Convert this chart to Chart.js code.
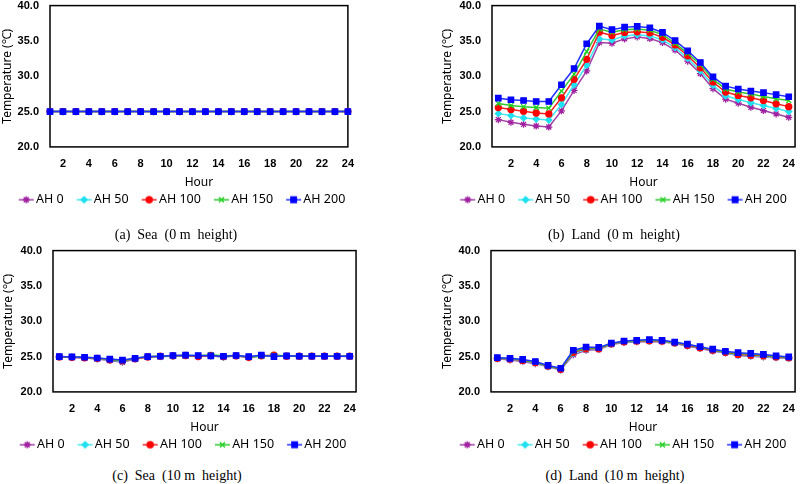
<!DOCTYPE html>
<html><head><meta charset="utf-8">
<script src="https://cdn.jsdelivr.net/npm/chart.js@4/dist/chart.umd.min.js"></script>
<style>
html,body{margin:0;padding:0;background:#fff}
body{width:800px;height:484px;position:relative;overflow:hidden}
.p{position:absolute}
.p canvas{display:block}
.cap{position:absolute;font-family:"Liberation Serif","Times New Roman",serif;font-size:14px;white-space:pre;transform:translateX(-50%);line-height:16px;color:#000}
</style></head><body>
<div class="p" id="boxA" style="left:-9px;top:-12px;width:373px;height:228px"><canvas id="ca"></canvas></div>
<div class="p" id="boxB" style="left:433px;top:-12px;width:372px;height:228px"><canvas id="cb"></canvas></div>
<div class="p" id="boxC" style="left:-9px;top:233px;width:375px;height:228px"><canvas id="cc"></canvas></div>
<div class="p" id="boxD" style="left:432px;top:233px;width:373px;height:228px"><canvas id="cd"></canvas></div>
<div class="cap" style="left:176px;top:227px">(a)  Sea  (0 m  height)</div>
<div class="cap" style="left:614px;top:227px">(b)  Land  (0 m  height)</div>
<div class="cap" style="left:177px;top:468px">(c)  Sea  (10 m  height)</div>
<div class="cap" style="left:615px;top:468px">(d)  Land  (10 m  height)</div>
<script>
// ---------------- data ----------------
const hours = ['1','2','3','4','5','6','7','8','9','10','11','12','13','14','15','16','17','18','19','20','21','22','23','24'];
const xTickLabels = ['2','4','6','8','10','12','14','16','18','20','22','24'];
const yTickValues = [20, 25, 30, 35, 40];
const seriesNames = ['AH 0', 'AH 50', 'AH 100', 'AH 150', 'AH 200'];

// (a) Sea, 0 m height
const seaSurfAH0   = [25.0,25.0,25.0,25.0,25.0,25.0,25.0,25.0,25.0,25.0,25.0,25.0,25.0,25.0,25.0,25.0,25.0,25.0,25.0,25.0,25.0,25.0,25.0,25.0];
const seaSurfAH50  = [25.0,25.0,25.0,25.0,25.0,25.0,25.0,25.0,25.0,25.0,25.0,25.0,25.0,25.0,25.0,25.0,25.0,25.0,25.0,25.0,25.0,25.0,25.0,25.0];
const seaSurfAH100 = [25.0,25.0,25.0,25.0,25.0,25.0,25.0,25.0,25.0,25.0,25.0,25.0,25.0,25.0,25.0,25.0,25.0,25.0,25.0,25.0,25.0,25.0,25.0,25.0];
const seaSurfAH150 = [25.0,25.0,25.0,25.0,25.0,25.0,25.0,25.0,25.0,25.0,25.0,25.0,25.0,25.0,25.0,25.0,25.0,25.0,25.0,25.0,25.0,25.0,25.0,25.0];
const seaSurfAH200 = [25.0,25.0,25.0,25.0,25.0,25.0,25.0,25.0,25.0,25.0,25.0,25.0,25.0,25.0,25.0,25.0,25.0,25.0,25.0,25.0,25.0,25.0,25.0,25.0];

// (b) Land, 0 m height
const landSurfAH0   = [23.86,23.48,23.19,22.95,22.81,25.1,28.0,30.76,34.76,34.67,35.29,35.57,35.33,34.76,33.71,32.14,30.38,28.24,26.76,26.19,25.62,25.14,24.67,24.19];
const landSurfAH50  = [24.71,24.43,24.1,23.95,23.8,26.0,28.8,31.57,35.29,35.14,35.71,35.86,35.71,35.14,34.05,32.52,30.76,28.71,27.24,26.71,26.24,25.86,25.43,25.0];
const landSurfAH100 = [25.57,25.29,25.05,24.8,24.67,26.95,29.57,32.4,36.24,35.76,36.2,36.29,36.14,35.52,34.43,32.9,31.19,29.19,27.76,27.29,26.95,26.57,26.1,25.7];
const landSurfAH150 = [26.14,25.86,25.7,25.57,25.48,27.9,30.3,33.5,36.67,36.24,36.57,36.67,36.52,35.9,34.67,33.24,31.67,29.57,28.2,27.76,27.48,27.14,26.8,26.57];
const landSurfAH200 = [26.9,26.67,26.57,26.43,26.43,28.8,31.1,34.6,37.1,36.6,36.95,37.05,36.86,36.2,35.05,33.6,31.95,29.9,28.6,28.2,27.9,27.67,27.4,27.1];

// (c) Sea, 10 m height
const sea10AH0   = [24.95,24.9,24.8,24.65,24.45,24.2,24.65,24.9,25.0,25.05,25.15,25.05,25.1,24.9,25.1,24.85,25.15,25.05,25.05,25.05,25.05,25.05,25.05,25.0];
const sea10AH50  = [24.95,24.9,24.85,24.7,24.5,24.3,24.7,24.95,25.0,25.05,25.15,25.05,25.1,24.95,25.1,24.9,25.15,25.05,25.05,25.05,25.05,25.05,25.05,25.05];
const sea10AH100 = [24.95,24.9,24.85,24.75,24.55,24.4,24.7,24.95,25.05,25.1,25.15,25.0,25.15,25.0,25.1,24.9,25.1,25.2,25.05,25.05,25.05,25.05,25.05,25.05];
const sea10AH150 = [25.0,24.95,24.9,24.8,24.6,24.45,24.75,25.0,25.05,25.1,25.2,25.1,25.25,25.1,25.15,24.95,25.05,25.2,25.1,25.05,25.05,25.05,25.05,25.05];
const sea10AH200 = [25.0,24.95,24.9,24.8,24.65,24.5,24.75,25.0,25.05,25.15,25.2,25.15,25.1,25.05,25.15,25.0,25.2,25.0,25.1,25.05,25.05,25.05,25.05,25.05];

// (d) Land, 10 m height
const land10AH0   = [24.7,24.5,24.3,24.0,23.55,23.1,25.25,25.9,26.0,26.7,27.0,27.1,27.15,27.1,26.85,26.5,26.15,25.8,25.5,25.15,25.05,24.95,24.85,24.75];
const land10AH50  = [24.75,24.6,24.4,24.1,23.6,23.15,25.45,26.0,26.05,26.75,27.05,27.15,27.2,27.15,26.9,26.55,26.2,25.85,25.55,25.2,25.1,25.0,24.9,24.8];
const land10AH100 = [24.75,24.65,24.45,24.15,23.65,23.2,25.6,26.1,26.1,26.8,27.1,27.2,27.25,27.2,26.95,26.6,26.25,25.9,25.6,25.3,25.2,25.1,24.95,24.85];
const land10AH150 = [24.8,24.7,24.5,24.2,23.7,23.25,25.75,26.2,26.2,26.85,27.15,27.25,27.3,27.25,27.0,26.7,26.35,25.95,25.65,25.45,25.35,25.2,25.0,24.9];
const land10AH200 = [24.85,24.75,24.6,24.3,23.75,23.35,25.9,26.35,26.3,26.9,27.2,27.3,27.4,27.3,27.05,26.75,26.4,26.05,25.75,25.55,25.45,25.3,25.1,24.95];

// ---------------- styles ----------------
const lineColors  = ['#A040A8', '#40E8F0', '#F02020', '#30C830', '#2030FF'];
const pointColors = ['#A020A0', '#20E0F0', '#FF0000', '#20D020', '#0000FF'];
const pointStyles = ['star', 'rectRot', 'circle', 'crossRot', 'rect'];
const pointRadii  = [3.5, 3, 3, 3.5, 3.8];

function legendImage(i) {
  const c = document.createElement('canvas');
  c.width = 32; c.height = 12;
  const ctx = c.getContext('2d');
  ctx.strokeStyle = lineColors[i];
  ctx.lineWidth = 1.5;
  ctx.beginPath(); ctx.moveTo(15, 6); ctx.lineTo(30, 6); ctx.stroke();
  ctx.fillStyle = pointColors[i];
  ctx.strokeStyle = pointColors[i];
  Chart.helpers.drawPoint(ctx, {pointStyle: pointStyles[i], radius: pointRadii[i], rotation: 0, borderWidth: 1.5}, 22.5, 6);
  return c;
}

const framePlugin = {
  id: 'frame',
  beforeDatasetsDraw(chart) {
    const {ctx, chartArea: a} = chart;
    ctx.save();
    ctx.strokeStyle = '#000';
    ctx.lineWidth = 1.5;
    ctx.strokeRect(a.left, a.top, a.right - a.left, a.bottom - a.top);
    ctx.restore();
  }
};

function makeChart(id, seriesList, offset, yWidth, rightWidth, titlePad) {
  const images = seriesList.map((_, i) => legendImage(i));
  const datasets = seriesList.map((vals, i) => ({
    label: seriesNames[i],
    data: vals,
    borderColor: lineColors[i],
    backgroundColor: pointColors[i],
    pointBackgroundColor: pointColors[i],
    pointBorderColor: pointColors[i],
    pointStyle: pointStyles[i],
    pointRadius: pointRadii[i],
    pointBorderWidth: 1.3,
    borderWidth: 1.5,
    tension: 0,
    clip: false,
    order: seriesList.length - i
  }));
  return new Chart(document.getElementById(id), {
    type: 'line',
    data: { labels: hours, datasets },
    plugins: [framePlugin],
    options: {
      responsive: true,
      maintainAspectRatio: false,
      animation: false,
      events: [],
      layout: { padding: { top: 0, left: 0, right: 0, bottom: 0 } },
      scales: {
        x: {
          type: 'category',
          offset: offset,
          grid: { display: false, drawTicks: false },
          border: { display: false },
          ticks: {
            autoSkip: false, maxRotation: 0, padding: 10,
            color: '#000',
            font: { family: '"Liberation Sans", Arial, sans-serif', size: 11, weight: 'bold' },
            callback: function (v, idx) { const l = hours[idx]; return xTickLabels.includes(l) ? l : ''; }
          },
          title: { display: true, text: 'Hour', color: '#000', padding: { top: -5, bottom: 0 },
                   font: { family: '"Noto Sans", sans-serif', size: 12 } }
        },
        y: {
          min: 20, max: 40,
          afterBuildTicks: (s) => { s.ticks = yTickValues.map(v => ({ value: v })); },
          afterFit: (s) => { s.width = yWidth; },
          grid: { display: false, drawTicks: false },
          border: { display: false },
          ticks: {
            padding: 11, color: '#000',
            font: { family: '"Liberation Sans", Arial, sans-serif', size: 11, weight: 'bold' },
            callback: (v) => Number(v).toFixed(1)
          },
          title: { display: true, text: 'Temperature (℃)', color: '#000', padding: { top: titlePad, bottom: 0 },
                   font: { family: '"Noto Sans", sans-serif', size: 12 } }
        },
        y2: {
          position: 'right', display: true,
          grid: { display: false, drawTicks: false },
          border: { display: false },
          ticks: { display: false },
          afterFit: (s) => { s.width = rightWidth; }
        }
      },
      plugins: {
        tooltip: { enabled: false },
        legend: {
          position: 'bottom',
          labels: {
            usePointStyle: true,
            pointStyleWidth: 20,
            padding: 4,
            color: '#000',
            font: { family: '"Noto Sans", sans-serif', size: 12.5 },
            sort: (a, b) => a.datasetIndex - b.datasetIndex,
            generateLabels: (chart) => {
              const items = Chart.defaults.plugins.legend.labels.generateLabels(chart);
              items.forEach(it => { it.pointStyle = images[it.datasetIndex]; });
              return items;
            }
          }
        }
      }
    }
  });
}

makeChart('ca', [seaSurfAH0, seaSurfAH50, seaSurfAH100, seaSurfAH150, seaSurfAH200], false, 59, 11, 9);
makeChart('cb', [landSurfAH0, landSurfAH50, landSurfAH100, landSurfAH150, landSurfAH200], true, 59, 7, 7);
makeChart('cc', [sea10AH0, sea10AH50, sea10AH100, sea10AH150, sea10AH200], true, 62, 7, 10);
makeChart('cd', [land10AH0, land10AH50, land10AH100, land10AH150, land10AH200], true, 59, 7, 8);
</script>
</body></html>
